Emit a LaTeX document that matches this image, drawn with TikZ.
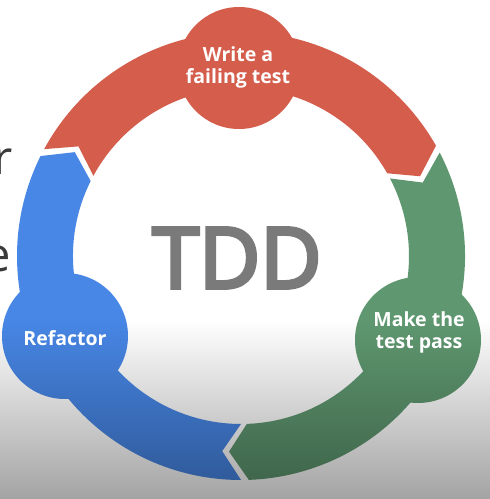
\documentclass[tikz,border=0pt]{standalone}
\usepackage{fontspec}
\setmainfont{Open Sans}
\newfontfamily\tddfont{Open Sans}[FakeBold=4.5]
\usetikzlibrary{fadings}
\definecolor{tddred}{HTML}{D45D4C}
\definecolor{tddgreen}{HTML}{5F9870}
\definecolor{tddblue}{HTML}{4887E6}
\definecolor{tddgray}{HTML}{7A7A7A}
\definecolor{slidetext}{HTML}{3A3A3A}
\tikzfading[name=fadedown, top color=transparent!100, bottom color=transparent!64]
\newcommand\tddsegment[3]{%
  \fill[#3, shift={(C)}] (#1:224) arc[start angle=#1, end angle=#2, radius=224]
    -- ({#2-5.5}:196) -- (#2:168) arc[start angle=#2, end angle=#1, radius=168]
    -- ({#1-5.5}:196) -- cycle;}
\begin{document}
\begin{tikzpicture}[x=1pt,y=1pt,
  bubbletext/.style={text=white, font=\bfseries\fontsize{19.5}{22}\selectfont, align=center, inner sep=0pt},
  edgeletter/.style={anchor=base east, inner sep=0pt, text=slidetext, font=\fontsize{47}{47}\selectfont}]
\useasboundingbox (0,0) rectangle (490,499);
\fill[white] (0,0) rectangle (490,499);
\coordinate (C) at (241,243);
% ring segments (clockwise)
\tddsegment{151.5}{29.5}{tddred}
\tddsegment{27.5}{-88}{tddgreen}
\tddsegment{270}{153.5}{tddblue}
% bubbles
\fill[tddred] (239,431) circle[radius=61];
\fill[tddgreen] (418,159) circle[radius=63];
\fill[tddblue] (65,163) circle[radius=63];
% bottom shading
\fill[black, path fading=fadedown] (0,0) rectangle (490,179);
% texts
\node[bubbletext] (write) at (238,432) {Write a\\failing test};
\node[bubbletext] (pass) at (419,167) {Make the\\test pass};
\node[bubbletext] (refactor) at (65,161) {Refactor};
\node[anchor=base, inner sep=0pt, text=tddgray, font=\tddfont\fontsize{84}{84}\selectfont] (tdd) at (237,211) {TDD};
\node[edgeletter] (letterr) at (13,324) {r};
\node[edgeletter] (lettere) at (11,227) {e};
\end{tikzpicture}
\end{document}
